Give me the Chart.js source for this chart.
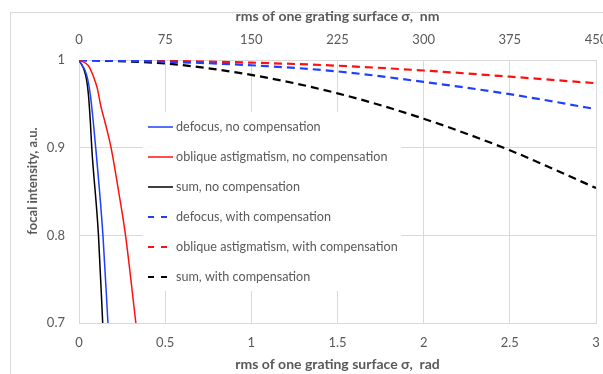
<!DOCTYPE html>
<html>
<head>
<meta charset="utf-8">
<script src="https://cdn.jsdelivr.net/npm/chart.js@4/dist/chart.umd.min.js"></script>
<style>
  html, body { margin: 0; padding: 0; background: #fff; overflow: hidden; }
  #wrap { width: 620px; height: 374px; }
  canvas { display: block; }
</style>
</head>
<body>
<div id="wrap"><canvas id="focalChart" width="620" height="374"></canvas></div>
<script>
// values (sigma in rad, intensity in a.u.)
const defocusNoX = [0, 0.045, 0.066, 0.083, 0.097, 0.139, 0.168];
const defocusNoY = [1, 0.9825, 0.96, 0.929, 0.9, 0.8, 0.7];

const astigNoX = [0, 0.055, 0.081, 0.107, 0.126, 0.151, 0.186, 0.23, 0.27, 0.33];
const astigNoY = [1, 0.9935, 0.9825, 0.967, 0.948, 0.929, 0.9, 0.85, 0.8, 0.7];

const sumNoX = [0, 0.039, 0.055, 0.066, 0.074, 0.113, 0.1375];
const sumNoY = [1, 0.9825, 0.96, 0.929, 0.9, 0.8, 0.7];

const compX = [0, 0.5, 1, 1.5, 2, 2.5, 3];
const defocusComp = [1, 0.998, 0.994, 0.987, 0.975, 0.961, 0.944];
const astigComp = [1, 0.999, 0.997, 0.9935, 0.988, 0.981, 0.9735];
const sumComp = [1, 0.996, 0.983, 0.962, 0.933, 0.897, 0.854];

const seriesLabels = [
    'defocus, no compensation',
    'oblique astigmatism, no compensation',
    'sum, no compensation',
    'defocus, with compensation',
    'oblique astigmatism, with compensation',
    'sum, with compensation'
];

const radTicks = ['0', '0.5', '1', '1.5', '2', '2.5', '3'];
const nmTicks = ['0', '75', '150', '225', '300', '375', '450'];
const yTicks = ['0.7', '0.8', '0.9', '1'];

const textColor = '#595959';
const gridColor = '#d9d9d9';
const fontName = 'Lato, "Open Sans", sans-serif';

function pts(xs, ys) {
    return xs.map((x, i) => ({ x: x, y: ys[i] }));
}

function line(label, data, color, dashed) {
    return {
        label: label,
        data: data,
        borderColor: color,
        backgroundColor: color,
        borderWidth: dashed ? 2.2 : 1.5,
        borderDash: dashed ? [8, 5] : [],
        pointRadius: 0,
        fill: false,
        cubicInterpolationMode: 'monotone',
        xAxisID: 'x',
        yAxisID: 'y'
    };
}

// light frame around the chart
const framePlugin = {
    id: 'frame',
    beforeDraw(chart) {
        const ctx = chart.ctx;
        ctx.save();
        ctx.fillStyle = '#fff';
        ctx.fillRect(0, 0, chart.width, chart.height);
        ctx.strokeStyle = gridColor;
        ctx.lineWidth = 1;
        ctx.strokeRect(10.5, 12.5, 700, 500);
        ctx.restore();
    }
};

// y title sits a bit above the middle of the plot, as in the original
const yTitle = {
    id: 'yTitle',
    afterDraw(chart) {
        const ctx = chart.ctx;
        ctx.save();
        ctx.translate(33, 181);
        ctx.rotate(-Math.PI / 2);
        ctx.font = 'bold 13px ' + fontName;
        ctx.fillStyle = textColor;
        ctx.textAlign = 'center';
        ctx.textBaseline = 'middle';
        ctx.fillText('focal intensity, a.u.', 0, 0);
        ctx.restore();
    }
};

// legend box inside the plot, over the grid but under the curves
const boxLegend = {
    id: 'boxLegend',
    beforeDatasetsDraw(chart) {
        const ctx = chart.ctx;
        const x0 = 143, y0 = 112;
        ctx.save();
        ctx.fillStyle = '#fff';
        ctx.fillRect(x0, y0, 258, 179);
        ctx.font = '12.6px ' + fontName;
        ctx.textBaseline = 'middle';
        chart.data.datasets.forEach((ds, i) => {
            const y = 127 + i * 30;
            ctx.strokeStyle = ds.borderColor;
            ctx.lineWidth = ds.borderDash.length ? 2.2 : 1.5;
            ctx.setLineDash(ds.borderDash.length ? [6, 7] : []);
            ctx.beginPath();
            ctx.moveTo(148, y);
            ctx.lineTo(173, y);
            ctx.stroke();
            ctx.setLineDash([]);
            ctx.fillStyle = textColor;
            ctx.fillText(ds.label, 176, y);
        });
        ctx.restore();
    }
};

const ctx = document.getElementById('focalChart');
new Chart(ctx, {
    type: 'line',
    data: {
        datasets: [
            line(seriesLabels[0], pts(defocusNoX, defocusNoY), '#1f3fff', false),
            line(seriesLabels[1], pts(astigNoX, astigNoY), '#ff1010', false),
            line(seriesLabels[2], pts(sumNoX, sumNoY), '#000000', false),
            line(seriesLabels[3], pts(compX, defocusComp), '#1f3fff', true),
            line(seriesLabels[4], pts(compX, astigComp), '#ff1010', true),
            line(seriesLabels[5], pts(compX, sumComp), '#000000', true)
        ]
    },
    options: {
        responsive: false,
        animation: false,
        devicePixelRatio: 1,
        layout: { padding: { left: 0, right: 24, top: 0, bottom: 0 } },
        scales: {
            x: {
                type: 'linear',
                position: 'bottom',
                min: 0,
                max: 3,
                afterFit: s => { s.height = 51; },
                afterBuildTicks: s => { s.ticks = radTicks.map(v => ({ value: +v })); },
                ticks: {
                    padding: 12,
                    color: textColor,
                    font: { family: fontName, size: 13 },
                    maxRotation: 0,
                    callback: (v, i) => radTicks[i]
                },
                grid: { color: gridColor, drawTicks: false },
                border: { color: gridColor },
                title: {
                    display: true,
                    text: 'rms of one grating surface σ,  rad',
                    color: textColor,
                    font: { family: fontName, size: 14, weight: 'bold' },
                    padding: { top: 0, bottom: 1 }
                }
            },
            x2: {
                type: 'linear',
                position: 'top',
                min: 0,
                max: 450,
                afterFit: s => { s.height = 60; },
                afterBuildTicks: s => { s.ticks = nmTicks.map(v => ({ value: +v })); },
                ticks: {
                    padding: 4,
                    color: textColor,
                    font: { family: fontName, size: 13 },
                    maxRotation: 0,
                    callback: (v, i) => nmTicks[i]
                },
                grid: { display: false },
                border: { display: false },
                title: {
                    display: true,
                    text: 'rms of one grating surface σ,  nm',
                    color: textColor,
                    font: { family: fontName, size: 14, weight: 'bold' },
                    padding: { top: 8, bottom: 0 }
                }
            },
            y: {
                min: 0.7,
                max: 1,
                afterFit: s => { s.width = 79; },
                afterBuildTicks: s => { s.ticks = yTicks.map(v => ({ value: +v })); },
                ticks: {
                    padding: 14,
                    color: textColor,
                    font: { family: fontName, size: 13 },
                    callback: (v, i) => yTicks[i]
                },
                grid: { color: gridColor, drawTicks: false },
                border: { color: gridColor },
                title: { display: false }
            }
        },
        plugins: {
            legend: { display: false },
            tooltip: { enabled: false }
        }
    },
    plugins: [framePlugin, boxLegend, yTitle]
});
</script>
</body>
</html>
